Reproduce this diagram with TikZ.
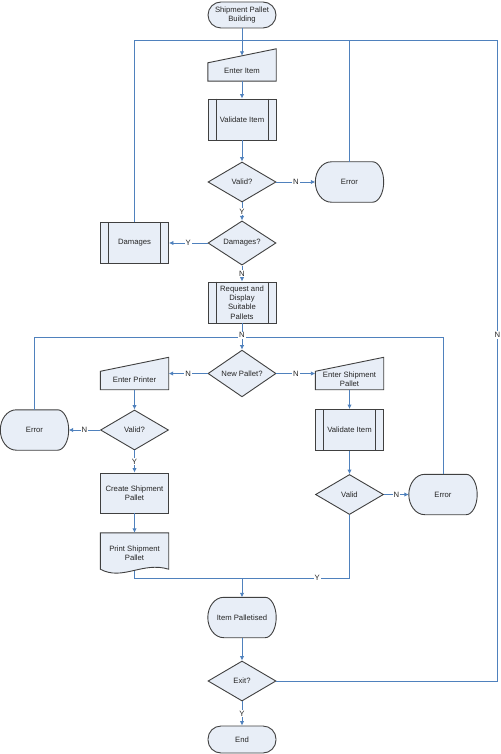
\documentclass[tikz,border=0pt]{standalone}
\usepackage{fontspec}
\setmainfont{Liberation Sans}
\usetikzlibrary{arrows.meta, calc, shapes.geometric}
\definecolor{shapefill}{HTML}{E8EEF7}
\definecolor{shapeline}{HTML}{404040}
\definecolor{flowline}{HTML}{4F81BD}
\tikzstyle{outline}  = [draw=shapeline,fill=shapefill,line width=0.9pt]
\tikzstyle{blank}    = [rectangle,inner sep=0pt,minimum width=68pt,minimum height=40pt]
\tikzstyle{txt}      = [align=center,text=black!85,font=\fontsize{7.7}{9.3}\selectfont,inner sep=0pt]
\tikzstyle{terminal} = [outline,txt,rectangle,rounded corners=13pt,minimum width=68pt,minimum height=26pt]
\tikzstyle{process}  = [outline,txt,rectangle,minimum width=68pt,minimum height=40pt]
\tikzstyle{decision} = [outline,txt,diamond,minimum width=68pt,minimum height=40pt]
\tikzstyle{wire}     = [draw=flowline,line width=0.9pt]
\tikzstyle{flow}     = [wire,-{Latex[length=4.5pt,width=4.5pt]}]
\tikzstyle{answer}   = [txt,fill=white,inner sep=1pt]
\newcommand\inputshape[3]{
    \node[blank,minimum height=32pt] (#1) at (#2) {};
    \draw[outline] (#1.south west) -- (#1.south east) -- (#1.north east) -- ($(#1.north west)+(0,14)$) -- cycle;
    \node[txt] (#1 text) at ($(#1)+(0,6)$) {#3};
}
\newcommand\screenshape[3]{
    \node[blank] (#1) at (#2) {};
    \draw[outline] ($(#1.north west)+(16,0)$) -- ($(#1.north east)+(-11,0)$)
        .. controls ($(#1.north east)+(-5,0)$) and ($(#1.east)+(0,-11)$) .. (#1.east)
        .. controls ($(#1.east)+(0,11)$) and ($(#1.south east)+(-5,0)$) .. ($(#1.south east)+(-11,0)$)
        -- ($(#1.south west)+(16,0)$)
        .. controls ($(#1.south west)+(7,0)$) and ($(#1.west)+(0,11)$) .. (#1.west)
        .. controls ($(#1.west)+(0,-11)$) and ($(#1.north west)+(7,0)$) .. ($(#1.north west)+(16,0)$) -- cycle;
    \node[txt] (#1 text) at (#1) {#3};
}
\newcommand\docshape[3]{
    \node[blank] (#1) at (#2) {};
    \draw[outline] (#1.north west) -- ($(#1.south west)+(0,-4)$)
        .. controls ($(#1.south)+(-12,8)$) and ($(#1.south)+(8,-12)$) .. ($(#1.south east)+(0,-4)$)
        -- (#1.north east) -- cycle;
    \node[txt] (#1 text) at (#1) {#3};
}
\newcommand\subproc[3]{
    \node[process,minimum height=41pt] (#1) at (#2) {#3};
    \draw[shapeline,line width=0.9pt] ($(#1.north west)+(8.5,0)$) -- ($(#1.south west)+(8.5,0)$);
    \draw[shapeline,line width=0.9pt] ($(#1.north east)+(-8.5,0)$) -- ($(#1.south east)+(-8.5,0)$);
}
\begin{document}
\begin{tikzpicture}[x=1pt,y=-1pt]
        \useasboundingbox (0,0) rectangle (500,754);

        \node[terminal] (start) at (242,15) {Shipment Pallet\\Building};
        \inputshape{enter item}{$(start)+(0,50)$}{Enter Item}
        \subproc{validate 1}{$(enter item)+(0,54.5)$}{Validate Item}
        \node[decision] (valid 1) at ($(validate 1)+(0,62.5)$) {Valid?};
        \screenshape{error 1}{$(valid 1)+(107.5,0)$}{Error}
        \node[decision] (damaged) at ($(valid 1)+(0,61)$) {Damages?};
        \subproc{damages}{$(damaged)+(-107.5,0)$}{Damages}
        \subproc{request}{$(damaged)+(0,59.5)$}{Request and\\Display\\Suitable\\Pallets}
        \node[decision] (new pallet) at ($(request)+(0,71)$) {New Pallet?};
        \inputshape{enter printer}{$(new pallet)+(-107.5,0)$}{Enter Printer}
        \inputshape{enter pallet}{$(new pallet)+(107.5,0)$}{Enter Shipment\\Pallet}
        \node[decision] (valid 2) at ($(enter printer)+(0,56.5)$) {Valid?};
        \screenshape{error 2}{$(valid 2)+(-100,0)$}{Error}
        \node[process] (create) at ($(valid 2)+(0,63)$) {Create Shipment\\Pallet};
        \docshape{print}{$(create)+(0,60)$}{Print Shipment\\Pallet}
        \subproc{validate 2}{$(enter pallet)+(0,56.5)$}{Validate Item}
        \node[decision] (valid 3) at ($(validate 2)+(0,64.5)$) {Valid};
        \screenshape{error 3}{$(valid 3)+(93.5,0)$}{Error}
        \screenshape{palletised}{$(new pallet)+(0,244)$}{Item Palletised}
        \node[decision] (exit) at ($(palletised)+(0,63.5)$) {Exit?};
        \node[terminal,minimum height=27pt] (end) at ($(exit)+(0,58.5)$) {End};

        \coordinate (loop top) at ($(start)+(0,25)$);
        \coordinate (loop mid) at ($(request)+(0,34.5)$);
        \coordinate (merge)    at ($(palletised)+(0,-39.5)$);

        % loops back
        \draw[wire] (damages) |- (loop top);
        \draw[wire] (error 1) |- (loop top);
        \draw[wire] (exit.east) -- ++(221,0) |- node[answer,pos=0.27] {N} (loop top);
        \draw[wire] (error 2) |- (loop mid);
        \draw[wire] (error 3) |- (loop mid);

        \draw[flow] (start.south) -- ($(enter item.north)+(0,7)$);
        \draw[flow] (enter item) -- (validate 1);
        \draw[flow] (validate 1) -- (valid 1);
        \draw[flow] (valid 1) -- node[answer] {N} (error 1);
        \draw[flow] (valid 1) -- node[answer] {Y} (damaged);
        \draw[flow] (damaged) -- node[answer] {Y} (damages);
        \draw[flow] (damaged) -- node[answer] {N} (request);
        \draw[flow] (request) -- node[answer,pos=0.45] {N} (new pallet);
        \draw[flow] (new pallet) -- node[answer] {N} (enter printer);
        \draw[flow] (new pallet) -- node[answer] {N} (enter pallet);
        \draw[flow] (enter printer) -- (valid 2);
        \draw[flow] (valid 2) -- node[answer] {N} (error 2);
        \draw[flow] (valid 2) -- node[answer] {Y} (create);
        \draw[flow] (create) -- (print);
        \draw[flow] (enter pallet) -- (validate 2);
        \draw[flow] (validate 2) -- (valid 3);
        \draw[flow] (valid 3) -- node[answer] {N} (error 3);

        % both branches join
        \draw[wire] ($(print.south)+(0,-2)$) |- (merge);
        \draw[wire] (valid 3) |- node[answer,pos=0.65] {Y} (merge);
        \draw[flow] (merge) -- (palletised);
        \draw[flow] (palletised) -- (exit);
        \draw[flow] (exit) -- node[answer] {Y} (end);
    \end{tikzpicture}
\end{document}
